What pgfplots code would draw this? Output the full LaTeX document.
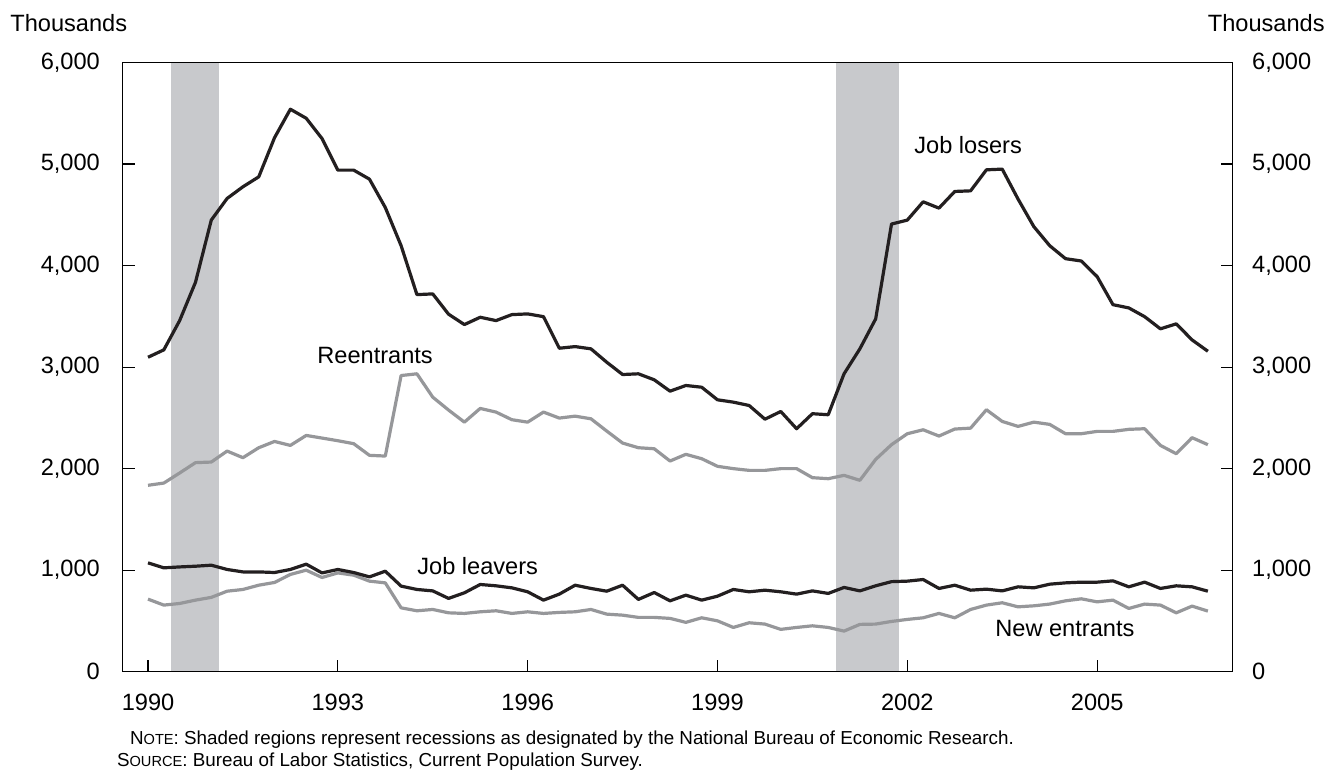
\documentclass[border=0pt]{standalone}
\usepackage{fontspec}
\setmainfont{Liberation Sans}
\usepackage{pgfplots}
\usepackage{pgfplotstable}
\pgfplotsset{compat=1.18}

\definecolor{recgray}{RGB}{200,201,204}
\definecolor{linegray}{RGB}{150,151,154}
\definecolor{lineblack}{RGB}{35,31,32}

% quarterly, 1990Q1 = 0
\pgfplotstableread{
q losers reentrants leavers newentrants
0 3097 1836 1072 715
1 3170 1858 1023 656
2 3458 1957 1032 672
3 3835 2059 1039 705
4 4448 2065 1049 732
5 4661 2173 1007 793
6 4776 2108 983 810
7 4874 2206 983 852
8 5260 2268 977 879
9 5540 2229 1007 958
10 5451 2327 1059 1000
11 5251 2301 973 928
12 4940 2275 1007 973
13 4940 2246 977 951
14 4851 2131 934 892
15 4572 2124 990 875
16 4196 2917 843 629
17 3714 2934 810 600
18 3721 2704 796 613
19 3521 2577 722 580
20 3419 2458 777 574
21 3491 2593 859 590
22 3458 2557 846 600
23 3517 2482 826 574
24 3524 2458 787 590
25 3497 2557 705 574
26 3186 2498 764 584
27 3202 2517 852 590
28 3180 2491 820 613
29 3048 2370 793 567
30 2927 2252 852 557
31 2934 2206 712 535
32 2875 2196 780 535
33 2763 2075 698 525
34 2819 2141 754 486
35 2802 2098 705 531
36 2678 2023 744 501
37 2655 2000 810 436
38 2622 1983 787 482
39 2487 1983 803 469
40 2563 2000 787 417
41 2393 2000 764 436
42 2541 1911 796 452
43 2531 1901 771 436
44 2934 1934 830 400
45 3180 1885 796 466
46 3475 2091 846 469
47 4409 2236 887 495
48 4448 2344 892 515
49 4628 2383 908 531
50 4566 2321 820 574
51 4730 2390 852 531
52 4736 2399 803 613
53 4943 2580 813 656
54 4950 2465 796 679
55 4655 2416 836 639
56 4383 2458 826 649
57 4196 2436 862 666
58 4068 2344 875 698
59 4045 2344 882 718
60 3891 2367 882 688
61 3615 2367 895 705
62 3583 2387 836 623
63 3497 2393 882 666
64 3377 2229 820 656
65 3426 2147 846 580
66 3268 2305 836 646
67 3156 2236 793 597
}\datatable

\newcommand{\lblfont}{\fontsize{11.8}{14}\selectfont}
\newcommand{\notefont}{\fontsize{9.4}{11}\selectfont}
\newcommand{\scfont}{\fontsize{7.3}{9}\selectfont}

\begin{document}
\begin{tikzpicture}[font=\lblfont]
\useasboundingbox (-61.35pt,-53.15pt) rectangle (607.15pt,335.85pt);

\begin{axis}[
  at={(0,0)}, anchor=south west,
  scale only axis, width=555pt, height=304.6pt,
  xmin=-1.6, xmax=68.57, ymin=0, ymax=6000,
  axis on top,
  axis line style={line width=0.6pt, black},
  tick style={line width=0.6pt, black},
  major tick length=6pt,
  tick align=inside,
  xtick={0,12,24,36,48,60},
  xticklabels={1990,1993,1996,1999,2002,2005},
  xtick pos=left,
  ytick={0,1000,...,6000},
  ytick pos=both,
  tick label style={font=\lblfont},
  yticklabel style={xshift=-7.9pt},
  xticklabel style={yshift=-7.5pt},
  /pgf/number format/.cd, 1000 sep={,}, assume math mode=true,
]
\addplot[fill=recgray, draw=none] coordinates {(1.45,0) (1.45,6000) (4.49,6000) (4.49,0)} -- cycle;
\addplot[fill=recgray, draw=none] coordinates {(43.47,0) (43.47,6000) (47.47,6000) (47.47,0)} -- cycle;

\addplot[linegray, line width=1.6pt, line join=round] table[x=q, y=newentrants] {\datatable};
\addplot[lineblack, line width=1.6pt, line join=round] table[x=q, y=leavers] {\datatable};
\addplot[linegray, line width=1.6pt, line join=round] table[x=q, y=reentrants] {\datatable};
\addplot[lineblack, line width=1.6pt, line join=round] table[x=q, y=losers] {\datatable};

\node[anchor=west, inner sep=0pt] at (axis cs:48.42,5188) {Job losers};
\node[anchor=west, inner sep=0pt] at (axis cs:10.68,3119) {Reentrants};
\node[anchor=west, inner sep=0pt] at (axis cs:17.0,1041) {Job leavers};
\node[anchor=west, inner sep=0pt] at (axis cs:53.54,427) {New entrants};
\end{axis}

\begin{axis}[
  at={(0,0)}, anchor=south west,
  scale only axis, width=555pt, height=304.6pt,
  xmin=-1.6, xmax=68.57, ymin=0, ymax=6000,
  hide x axis,
  axis y line*=right,
  axis line style={draw=none},
  major tick length=0pt,
  ytick={0,1000,...,6000},
  tick label style={font=\lblfont},
  yticklabel style={xshift=6.2pt},
  /pgf/number format/.cd, 1000 sep={,}, assume math mode=true,
]
\addplot[draw=none] coordinates {(0,0)};
\end{axis}

\node[anchor=west, inner sep=0pt] at (-56.35pt,324.35pt) {Thousands};
\node[anchor=east, inner sep=0pt] at (601.15pt,324.35pt) {Thousands};
\node[anchor=base west, inner sep=0pt, font=\notefont] at (3.5pt,-36.6pt)
  {N{\scfont OTE}: Shaded regions represent recessions as designated by the National Bureau of Economic Research.};
\node[anchor=base west, inner sep=0pt, font=\notefont] at (-3pt,-47.6pt)
  {S{\scfont OURCE}: Bureau of Labor Statistics, Current Population Survey.};
\end{tikzpicture}
\end{document}
